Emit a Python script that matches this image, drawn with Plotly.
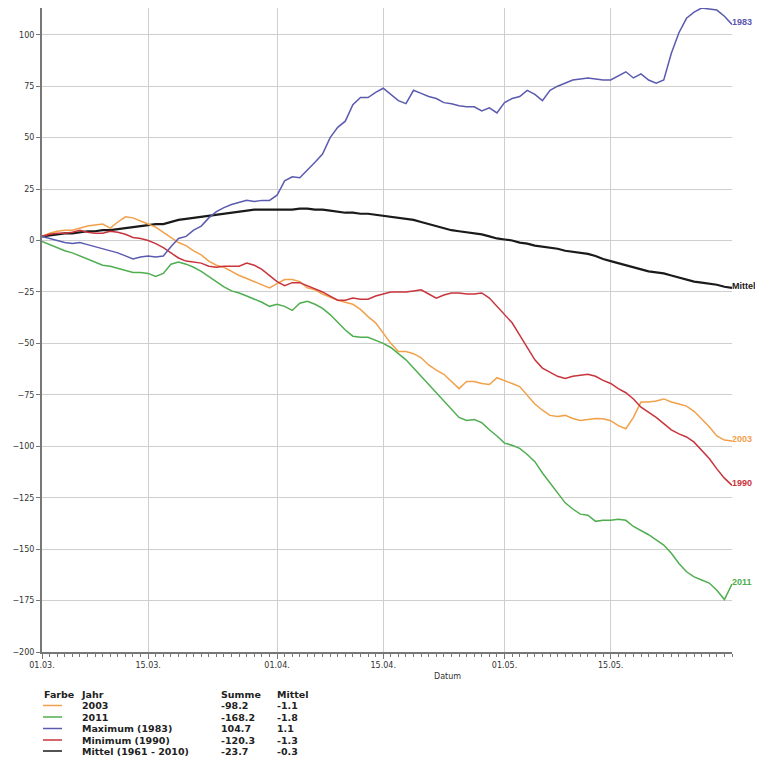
import pandas as pd
import plotly.graph_objects as go

# daily values, 01.03. - 31.05.
dates = pd.date_range("2003-03-01", "2003-05-31", freq="D")

y2003 = [
    2, 3.5, 4.5, 5, 5, 6, 7, 7.5, 8, 6,
    9, 11.5, 11, 9.5, 8, 6.5, 4, 1.5, -1, -2.5,
    -5, -7, -10, -12, -13, -15, -17, -18.5, -20, -21.5,
    -23, -21, -19, -19, -20, -23, -24, -26, -27.5, -29,
    -30, -31, -33.5, -37, -40, -45, -50, -54, -54, -55,
    -57, -60.5, -63, -65, -68.5, -72, -68.5, -68.5, -69.5, -70,
    -66.7, -68, -69.5, -71, -75, -79.5, -82.5, -85, -85.5, -85,
    -86.5, -87.5, -87, -86.5, -86.6, -87.6, -90, -91.5, -86, -78.5,
    -78.5, -78, -77, -78.5, -79.5, -80.5, -83, -86.5, -90.5, -95,
    -97, -97.5,
]
y2011 = [
    -0.5, -2, -3.5, -5, -6, -7.5, -9, -10.5, -12, -12.5,
    -13.5, -14.5, -15.5, -15.5, -16, -17.5, -16, -11.5, -10.5, -11.5,
    -13, -15, -17.5, -20, -22.5, -24.5, -25.5, -27, -28.5, -30,
    -32, -31, -32, -34, -30.5, -29.5, -31, -33, -36, -40,
    -43.5, -46.5, -47, -47, -48.5, -50, -52, -55, -58, -62,
    -66, -70, -74.5, -78.5, -82.5, -86, -87.5, -87, -88.5, -92,
    -95, -98.5, -99.5, -101, -104, -107.5, -113, -118, -123, -127.5,
    -130.5, -133, -133.5, -136.5, -136, -136, -135.5, -136, -139, -141,
    -143, -145.5, -148, -152, -157, -161, -163.5, -165, -166.5, -170,
    -174.5, -167,
]
y1983 = [
    2, 1, 0, -1, -1.5, -1, -2, -3, -4, -5,
    -6, -7.5, -9, -8, -7.5, -8, -7.5, -3, 1, 2,
    5, 7, 11, 14, 16, 17.5, 18.5, 19.5, 19, 19.5,
    19.5, 22, 29, 31, 30.5, 34, 38, 42, 50, 55,
    58, 66, 69.5, 69.5, 72, 74, 71, 68, 66.5, 73,
    71.5, 70, 69, 67, 66.5, 65.5, 65, 65, 63, 64.5,
    62, 67, 69, 70, 73, 71, 68, 73, 75, 76.5,
    78, 78.5, 79, 78.5, 78, 78, 80, 82, 79, 81,
    78, 76.5, 78, 91, 101, 108, 111, 113, 112.5, 112,
    109, 105,
]
y1990 = [
    2, 3, 3.5, 3.5, 4, 5, 4, 3.5, 3.5, 4.5,
    4, 3, 1.5, 1, 0, -1.5, -3.5, -6, -8.5, -10,
    -10.5, -11, -12.5, -13, -12.5, -12.5, -12.5, -11, -12, -14,
    -17, -20, -22, -20.5, -20.5, -22, -23.5, -25, -27, -29,
    -29, -28, -28.5, -28.5, -27, -26, -25, -25, -25, -24.5,
    -24, -26, -28, -26.5, -25.5, -25.5, -26, -26, -25.5, -28,
    -32, -36, -40, -46, -52, -58, -62, -64, -66, -67,
    -66, -65.5, -65, -66, -68, -69.5, -72, -74, -77, -81,
    -83.5, -86, -89, -92, -94, -95.5, -98, -102, -106, -111,
    -115.5, -119,
]
y_mittel = [
    2, 2.5, 3, 3.5, 3.5, 4, 4.5, 4.5, 5, 5,
    5.5, 6, 6.5, 7, 7.5, 8, 8, 9, 10, 10.5,
    11, 11.5, 12, 12.5, 13, 13.5, 14, 14.5, 15, 15,
    15, 15, 15, 15, 15.5, 15.5, 15, 15, 14.5, 14,
    13.5, 13.5, 13, 13, 12.5, 12, 11.5, 11, 10.5, 10,
    9, 8, 7, 6, 5, 4.5, 4, 3.5, 3, 2,
    1, 0.5, 0, -1, -1.5, -2.5, -3, -3.5, -4, -5,
    -5.5, -6, -6.5, -7.5, -9, -10, -11, -12, -13, -14,
    -15, -15.5, -16, -17, -18, -19, -20, -20.5, -21, -21.5,
    -22.5, -23,
]

series_names = ["2003", "2011", "Maximum (1983)", "Minimum (1990)", "Mittel (1961 - 2010)"]
end_labels = ["2003", "2011", "1983", "1990", "Mittel"]
summe = ["-98.2", "-168.2", "104.7", "-120.3", "-23.7"]
mittel = ["-1.1", "-1.8", "1.1", "-1.3", "-0.3"]
colors = ["#f2a04a", "#4fae4f", "#5a5ab0", "#c8343c", "#1a1a1a"]
widths = [1.5, 1.5, 1.5, 1.5, 2.2]
values = [y2003, y2011, y1983, y1990, y_mittel]

tick_dates = ["2003-03-01", "2003-03-15", "2003-04-01", "2003-04-15", "2003-05-01", "2003-05-15"]
tick_text = ["01.03.", "15.03.", "01.04.", "15.04.", "01.05.", "15.05."]
y_ticks = list(range(-200, 101, 25))

# the page body has an 8px margin, so the figure is a bit smaller than the window
OFF = 8
W, H = 755, 750
# plot area in page pixels
L, R, T, B = 42, 732, 8, 652


def px(x):
    return (x - L) / (R - L)


def py(y):
    return (B - y) / (B - T)


fig = go.Figure()

# draw Mittel first, so the yearly lines sit on top like in the original
order = [4, 0, 3, 1, 2]
for i in order:
    fig.add_trace(
        go.Scatter(
            x=dates,
            y=values[i],
            mode="lines",
            line=dict(color=colors[i], width=widths[i]),
            name=series_names[i],
            showlegend=False,
        )
    )

annotations = []
for i in range(5):
    # narrow font so the end labels stay inside the visible page
    annotations.append(
        dict(
            x=dates[-1], y=values[i][-1], xref="x", yref="y",
            text=f"<b>{end_labels[i]}</b>", showarrow=False,
            xanchor="left", yanchor="middle", xshift=-2, yshift=2,
            font=dict(family="Liberation Sans", size=9, color=colors[i]),
        )
    )

annotations.append(
    dict(
        x=px(447), y=py(676), xref="paper", yref="paper",
        text="Datum", showarrow=False, xanchor="center", yanchor="middle",
        font=dict(family="DejaVu Sans", size=8, color="#333333"),
    )
)

# legend table below the plot
leg_font = dict(family="DejaVu Sans", size=9.5, color="#222222")
header_y = 694
row_y = [705.5, 717, 728.5, 740, 751]
for txt, x in [("Farbe", 42), ("Jahr", 79), ("Summe", 219), ("Mittel", 275)]:
    annotations.append(
        dict(x=px(x), y=py(header_y), xref="paper", yref="paper",
             text=f"<b>{txt}</b>", showarrow=False, xanchor="left",
             yanchor="middle", font=leg_font)
    )

shapes = []
for i in range(5):
    yy = py(row_y[i])
    shapes.append(
        dict(type="line", xref="paper", yref="paper",
             x0=px(43), x1=px(62), y0=yy, y1=yy,
             line=dict(color=colors[i], width=1.5))
    )
    for txt, x in [(series_names[i], 80), (summe[i], 219), (mittel[i], 275)]:
        annotations.append(
            dict(x=px(x), y=yy, xref="paper", yref="paper",
                 text=f"<b>{txt}</b>", showarrow=False, xanchor="left",
                 yanchor="middle", font=leg_font)
        )

fig.update_layout(
    width=W,
    height=H,
    margin=dict(l=L - OFF, r=W - (R - OFF), t=T - OFF, b=H - (B - OFF), autoexpand=False),
    paper_bgcolor="white",
    plot_bgcolor="white",
    showlegend=False,
    annotations=annotations,
    shapes=shapes,
    font=dict(family="DejaVu Sans", size=8, color="#333333"),
)

fig.update_xaxes(
    type="date",
    range=[dates[0], dates[-1]],
    tickvals=list(pd.to_datetime(tick_dates)),
    ticktext=tick_text,
    ticks="outside",
    ticklen=5,
    tickcolor="#777777",
    tickfont=dict(family="DejaVu Sans", size=8, color="#333333"),
    showgrid=True,
    gridcolor="#cfcfcf",
    gridwidth=1,
    showline=True,
    linecolor="#777777",
    linewidth=1.5,
    zeroline=False,
    automargin=False,
    minor=dict(dtick=86400000, ticks="outside", ticklen=3, tickcolor="#777777", showgrid=False),
)
fig.update_yaxes(
    range=[-200, 113],
    tickvals=y_ticks,
    ticks="outside",
    ticklen=4,
    tickcolor="#777777",
    tickfont=dict(family="DejaVu Sans", size=8, color="#333333"),
    showgrid=True,
    gridcolor="#cfcfcf",
    gridwidth=1,
    showline=True,
    linecolor="#777777",
    linewidth=2,
    zeroline=False,
    automargin=False,
)

fig.write_html("out.html")
